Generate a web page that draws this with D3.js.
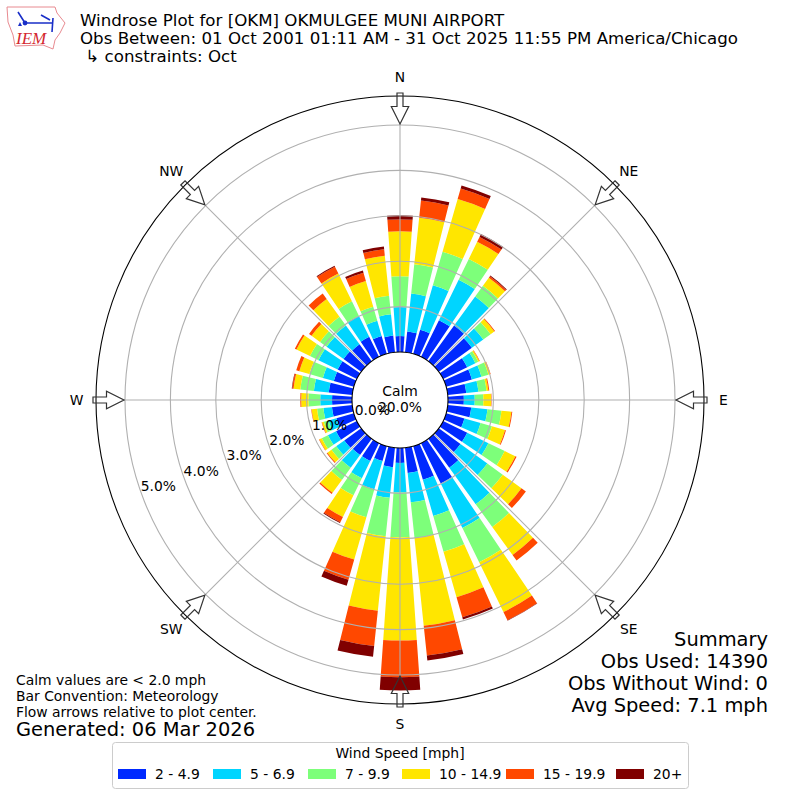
<!DOCTYPE html>
<html>
<head>
<meta charset="utf-8">
<script src="https://cdn.jsdelivr.net/npm/d3@7"></script>
<style>
	html, body { margin: 0; background: #fff; }
	svg { display: block; }
	text { font-family: "DejaVu Sans", sans-serif; fill: #000; }
</style>
</head>
<body>
<svg id="chart" width="800" height="800"></svg>
<script>
// direction of each bar, degrees clockwise from north
const directions = d3.range(0, 360, 10);

// percent of obs in each speed bin, per direction
const speed2to5 = [.35,.46,.55,.90,.97,.90,.59,.59,.41,.35,.52,.42,.59,.59,.79,.99,.77,.56,.33,.43,.34,.44,.44,.46,.51,.40,.45,.44,.52,.46,.47,.48,.46,.49,.41,.37];
const speed5to7 = [.64,.84,1.02,.99,.79,.31,.20,.22,.27,.24,.36,.37,.52,.73,.99,1.09,.83,.65,.65,.68,.65,.42,.35,.22,.20,.18,.19,.26,.33,.25,.47,.46,.51,.52,.35,.47];
const speed7to10 = [.68,.65,.77,.51,.29,.20,.07,.16,.18,.19,.31,.26,.40,.42,.62,.84,.82,.79,.99,.85,.64,.42,.33,.13,.15,.11,.14,.26,.30,.31,.21,.18,.24,.35,.32,.41];
const speed10to15 = [.99,1.03,1.21,.42,.22,.10,.03,.04,.04,.17,.22,.30,.26,.51,.76,1.22,1.04,1.94,2.27,1.65,.97,.53,.35,.11,.06,.04,.12,.16,.15,.23,.33,.23,.48,.68,.59,.89];
const speed15to20 = [.26,.38,.24,.12,.04,.02,.01,.01,.02,.01,.02,.02,.03,.12,.15,.20,.46,.66,.81,.78,.46,.13,.03,.02,.01,.01,.01,.02,.03,.07,.04,.07,.15,.17,.19,.14];
const speed20up = [.09,.07,.07,.07,.02,0,0,0,0,0,0,0,0,0,0,.01,.05,.11,.29,.24,.14,.02,0,0,0,0,0,0,.01,0,0,0,0,.02,.05,.06];

const speedLabels = ['2 - 4.9', '5 - 6.9', '7 - 9.9', '10 - 14.9', '15 - 19.9', '20+'];
const speedColors = ['#0029ff', '#00d5ff', '#7dff7a', '#ffe600', '#ff4800', '#800000'];
const speedSeries = [speed2to5, speed5to7, speed7to10, speed10to15, speed15to20, speed20up];

const compassLabels = ['N', 'NE', 'E', 'SE', 'S', 'SW', 'W', 'NW'];
const compassAngles = [0, 45, 90, 135, 180, 225, 270, 315];
const ringTicks = [0, 1, 2, 3, 4, 5];

const titleLines = ['Windrose Plot for [OKM] OKMULGEE MUNI AIRPORT',
	'Obs Between: 01 Oct 2001 01:11 AM - 31 Oct 2025 11:55 PM America/Chicago',
	' \u21b3 constraints: Oct'];
const noteLines = ['Calm values are < 2.0 mph', 'Bar Convention: Meteorology', 'Flow arrows relative to plot center.'];
const summaryLines = ['Summary', 'Obs Used: 14390', 'Obs Without Wind: 0', 'Avg Speed: 7.1 mph'];

const cx = 400, cy = 400, outerR = 304;
const barWidth = 8; // degrees

const svg = d3.select('#chart');
const plot = svg.append('g').attr('transform', `translate(${cx},${cy})`);

let r = d3.scaleLinear().domain([0, 5]).range([48, 275]);
let rad = d3.scaleLinear().domain([0, 360]).range([0, 2 * Math.PI]);

// white disc + outer circle
plot.append('circle').attr('r', outerR).attr('fill', '#fff');

// stacked bars, one row per direction
let rows = directions.map((dir, i) => {
	let row = { dir: dir };
	speedLabels.forEach((lab, j) => { row[lab] = speedSeries[j][i]; });
	return row;
});
let stacked = d3.stack().keys(speedLabels)(rows);

let arc = d3.arc()
	.innerRadius(d => r(d[0]))
	.outerRadius(d => r(d[1]))
	.startAngle(d => rad(d.data.dir - barWidth / 2))
	.endAngle(d => rad(d.data.dir + barWidth / 2));

plot.selectAll('g.speed')
	.data(stacked)
	.enter()
	.append('g')
	.classed('speed', true)
	.attr('fill', (d, i) => speedColors[i])
	.selectAll('path')
	.data(d => d)
	.enter()
	.append('path')
	.attr('d', arc);

// grid goes on top of the bars
plot.selectAll('circle.ring')
	.data(ringTicks.slice(1))
	.enter()
	.append('circle')
	.classed('ring', true)
	.attr('r', d => r(d))
	.attr('fill', 'none')
	.attr('stroke', '#b0b0b0')
	.attr('stroke-width', 1.1);

let polar = (deg, radius) => d3.pointRadial(rad(deg), radius);

// flow arrow sizes
const tailR = outerR + 3, headBase = outerR - 10.5, tipR = r(5) + 1;

// spokes stop at the arrow tips
plot.selectAll('line.spoke')
	.data(compassAngles)
	.enter()
	.append('line')
	.classed('spoke', true)
	.attr('x1', d => polar(d, r(0))[0])
	.attr('y1', d => polar(d, r(0))[1])
	.attr('x2', d => polar(d, tipR)[0])
	.attr('y2', d => polar(d, tipR)[1])
	.attr('stroke', '#b0b0b0')
	.attr('stroke-width', 1.1);

// center hole and frame
plot.append('circle').attr('r', r(0)).attr('fill', '#fff').attr('stroke', '#000').attr('stroke-width', 1.1);
plot.append('circle').attr('r', outerR).attr('fill', 'none').attr('stroke', '#000').attr('stroke-width', 1.1);

// flow arrows, pointing in from the frame
let arrow = `M${-3},${-tailR}L${3},${-tailR}L${3},${-headBase}L${8.7},${-headBase}L0,${-tipR}L${-8.7},${-headBase}L${-3},${-headBase}Z`;
plot.selectAll('path.flow')
	.data(compassAngles)
	.enter()
	.append('path')
	.classed('flow', true)
	.attr('d', arrow)
	.attr('transform', d => `rotate(${d})`)
	.attr('fill', 'none')
	.attr('stroke', '#333')
	.attr('stroke-width', 1.2);

// compass labels
plot.selectAll('text.compass')
	.data(compassLabels)
	.enter()
	.append('text')
	.classed('compass', true)
	.attr('x', (d, i) => polar(compassAngles[i], outerR + 19.5)[0])
	.attr('y', (d, i) => polar(compassAngles[i], outerR + 19.5)[1])
	.attr('text-anchor', 'middle')
	.attr('dominant-baseline', 'central')
	.attr('font-size', 13.89)
	.text(d => d);

// percent labels sit on the rings at a fixed bearing
plot.selectAll('text.rlabel')
	.data(ringTicks)
	.enter()
	.append('text')
	.classed('rlabel', true)
	.attr('x', d => polar(250.5, r(d))[0])
	.attr('y', d => polar(250.5, r(d))[1] - 1)
	.attr('font-size', 13.89)
	.text(d => d.toFixed(1) + '%');

plot.append('text').attr('text-anchor', 'middle').attr('y', -4).attr('font-size', 13.89).text('Calm');
plot.append('text').attr('text-anchor', 'middle').attr('y', 12).attr('font-size', 13.89).text('20.0%');

// title
svg.selectAll('text.title')
	.data(titleLines)
	.enter()
	.append('text')
	.classed('title', true)
	.attr('x', 80)
	.attr('y', (d, i) => 26 + i * 18)
	.attr('font-size', 16.67)
	.attr('xml:space', 'preserve')
	.style('white-space', 'pre')
	.text(d => d);

// notes bottom left
svg.selectAll('text.note')
	.data(noteLines)
	.enter()
	.append('text')
	.classed('note', true)
	.attr('x', 16)
	.attr('y', (d, i) => 685 + i * 16)
	.attr('font-size', 13.89)
	.text(d => d);
svg.append('text').attr('x', 16).attr('y', 736).attr('font-size', 19.44).text('Generated: 06 Mar 2026');

// summary bottom right
svg.selectAll('text.summary')
	.data(summaryLines)
	.enter()
	.append('text')
	.classed('summary', true)
	.attr('x', 768)
	.attr('y', (d, i) => 646 + i * 22)
	.attr('text-anchor', 'end')
	.attr('font-size', 19.44)
	.text(d => d);

// legend
const legendX = [118, 213, 308, 402, 506, 616];
let legend = svg.append('g');
legend.append('rect')
	.attr('x', 112.5).attr('y', 742.5).attr('width', 576).attr('height', 46).attr('rx', 3)
	.attr('fill', '#fff').attr('stroke', '#ccc');
legend.append('text')
	.attr('x', 400).attr('y', 758).attr('text-anchor', 'middle').attr('font-size', 13.89)
	.text('Wind Speed [mph]');
let items = legend.selectAll('g.item')
	.data(speedLabels)
	.enter()
	.append('g')
	.classed('item', true)
	.attr('transform', (d, i) => `translate(${legendX[i]},769)`);
items.append('rect').attr('width', 28).attr('height', 10).attr('fill', (d, i) => speedColors[i]);
items.append('text').attr('x', 37).attr('y', 10).attr('font-size', 13.89).text(d => d);

// IEM logo
let logo = svg.append('g');
logo.append('path')
	.attr('d', 'M7,7L55,7L57,13L65,23L60,33L55,40L53,49L43,45L15,46L13,35L8,22Z')
	.attr('fill', '#fff').attr('stroke', '#e88a90').attr('stroke-width', 1);
logo.append('path')
	.attr('d', 'M25,23L53,23M18,12L25,23M41,15L50,20M53,18L52,32')
	.attr('fill', 'none').attr('stroke', '#1a2fc8').attr('stroke-width', 1.6);
logo.append('circle').attr('cx', 25).attr('cy', 23).attr('r', 2.4).attr('fill', '#1a2fc8');
logo.append('path').attr('d', 'M18,26L20,22L22,26Z').attr('fill', '#1a2fc8');
logo.append('text')
	.attr('x', 16).attr('y', 44).attr('font-size', 17)
	.style('font-family', '"Liberation Serif", serif').style('font-style', 'italic').style('fill', '#d4272f')
	.text('IEM');
</script>
</body>
</html>
